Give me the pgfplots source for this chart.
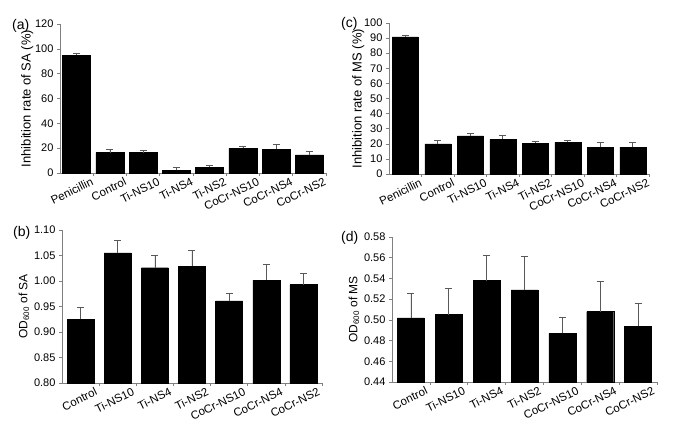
\documentclass[border=0pt]{standalone}
\usepackage{fontspec}
\setmainfont{Liberation Sans}
\usepackage{pgfplots}
\pgfplotsset{compat=1.18}
\definecolor{axgray}{gray}{0.5}
\definecolor{errgray}{gray}{0.35}
\pgfplotsset{
  panel/.style={
    scale only axis,
    anchor=south west,
    ybar,
    axis x line*=bottom, axis y line*=left,
    axis line style={axgray, -, line width=0.6pt},
    every tick/.style={axgray, line width=0.6pt},
    major tick length=3pt, minor tick length=3pt,
    tick align=outside,
    major x tick style={draw=none},
    xtick={0,...,7},
    /pgf/number format/assume math mode=true,
    tick label style={font=\fontsize{11}{13}\selectfont},
    xticklabel style={font=\fontsize{11.5}{13}\selectfont, rotate=26, anchor=north east, inner sep=1pt, xshift=13pt, yshift=-6pt},
    label style={font=\fontsize{12}{14}\selectfont},
    ylabel style={yshift=-2pt},
    clip=false,
  },
  bars/.style={fill=black, draw=black,
    error bars/.cd, y dir=plus, y explicit,
    error bar style={errgray, line width=0.6pt},
    error mark options={errgray, rotate=90, mark size=3.5pt, line width=0.6pt}},
}
\begin{document}
\begin{tikzpicture}
\path[use as bounding box] (0pt,0pt) rectangle (674pt,-431pt);
% (a)
\begin{axis}[panel, at={(60pt,-173pt)}, width=266pt, height=149pt,
  bar width=28pt, xmin=-0.5, xmax=7.5, ymin=0, ymax=120, ytick={0,20,...,120},
  minor xtick={0.5,1.5,...,7.5},
  xticklabels={Penicillin,Control,Ti-NS10,Ti-NS4,Ti-NS2,CoCr-NS10,CoCr-NS4,CoCr-NS2},
  ylabel style={font=\fontsize{13}{15}\selectfont, yshift=-3pt},
  ylabel={Inhibition rate of SA (\%)}]
\addplot[bars] table[x=x, y=y, y error=e] {
x y e
0 95.0 1.2
1 16.4 2.7
2 16.5 1.5
3 2.2 2.4
4 4.8 1.5
5 19.9 2.0
6 19.1 3.7
7 14.5 3.0
};
\end{axis}
% (c)
\begin{axis}[panel, at={(389pt,-174pt)}, width=260pt, height=151pt,
  bar width=26pt, xmin=-0.5, xmax=7.5, ymin=0, ymax=100, ytick={0,10,...,100},
  minor xtick={0.5,1.5,...,7.5},
  xticklabels={Penicillin,Control,Ti-NS10,Ti-NS4,Ti-NS2,CoCr-NS10,CoCr-NS4,CoCr-NS2},
  ylabel style={font=\fontsize{13}{15}\selectfont, yshift=-5pt},
  ylabel={Inhibition rate of MS (\%)}]
\addplot[bars] table[x=x, y=y, y error=e] {
x y e
0 90.8 1.2
1 20.0 2.6
2 25.3 1.5
3 22.9 2.4
4 20.5 1.3
5 21.0 1.4
6 17.6 3.5
7 17.8 3.1
};
\end{axis}
% (b)
\begin{axis}[panel, at={(62pt,-383pt)}, width=260pt, height=153pt,
  bar width=27pt, xmin=-0.5, xmax=6.5, ymin=0.8, ymax=1.1, ytick={0.80,0.85,...,1.11},
  minor xtick={0.5,1.5,...,6.5},
  yticklabel style={/pgf/number format/.cd, fixed, fixed zerofill, precision=2},
  xticklabels={Control,Ti-NS10,Ti-NS4,Ti-NS2,CoCr-NS10,CoCr-NS4,CoCr-NS2},
  ylabel={OD\textsubscript{600} of SA}]
\addplot[bars] table[x=x, y=y, y error=e] {
x y e
0 0.925 0.024
1 1.055 0.024
2 1.026 0.024
3 1.029 0.031
4 0.961 0.014
5 1.001 0.031
6 0.993 0.023
};
\end{axis}
% (d)
\begin{axis}[panel, at={(392pt,-382pt)}, width=265pt, height=145pt,
  bar width=27pt, xmin=-0.5, xmax=6.5, ymin=0.44, ymax=0.58, ytick={0.44,0.46,...,0.581},
  minor xtick={0.5,1.5,...,6.5},
  yticklabel style={/pgf/number format/.cd, fixed, fixed zerofill, precision=2},
  xticklabels={Control,Ti-NS10,Ti-NS4,Ti-NS2,CoCr-NS10,CoCr-NS4,CoCr-NS2},
  ylabel={OD\textsubscript{600} of MS}]
\addplot[bars] table[x=x, y=y, y error=e] {
x y e
0 0.502 0.024
1 0.505 0.025
2 0.538 0.024
3 0.529 0.032
4 0.487 0.015
5 0.508 0.029
6 0.494 0.022
};
\end{axis}
\node[anchor=west, inner sep=0pt, font=\fontsize{14}{16}\selectfont] at (12pt,-26pt) {(a)};
\node[anchor=west, inner sep=0pt, font=\fontsize{14}{16}\selectfont] at (341pt,-24pt) {(c)};
\node[anchor=west, inner sep=0pt, font=\fontsize{14}{16}\selectfont] at (13pt,-233pt) {(b)};
\node[anchor=west, inner sep=0pt, font=\fontsize{14}{16}\selectfont] at (341pt,-238pt) {(d)};
\end{tikzpicture}
\end{document}
